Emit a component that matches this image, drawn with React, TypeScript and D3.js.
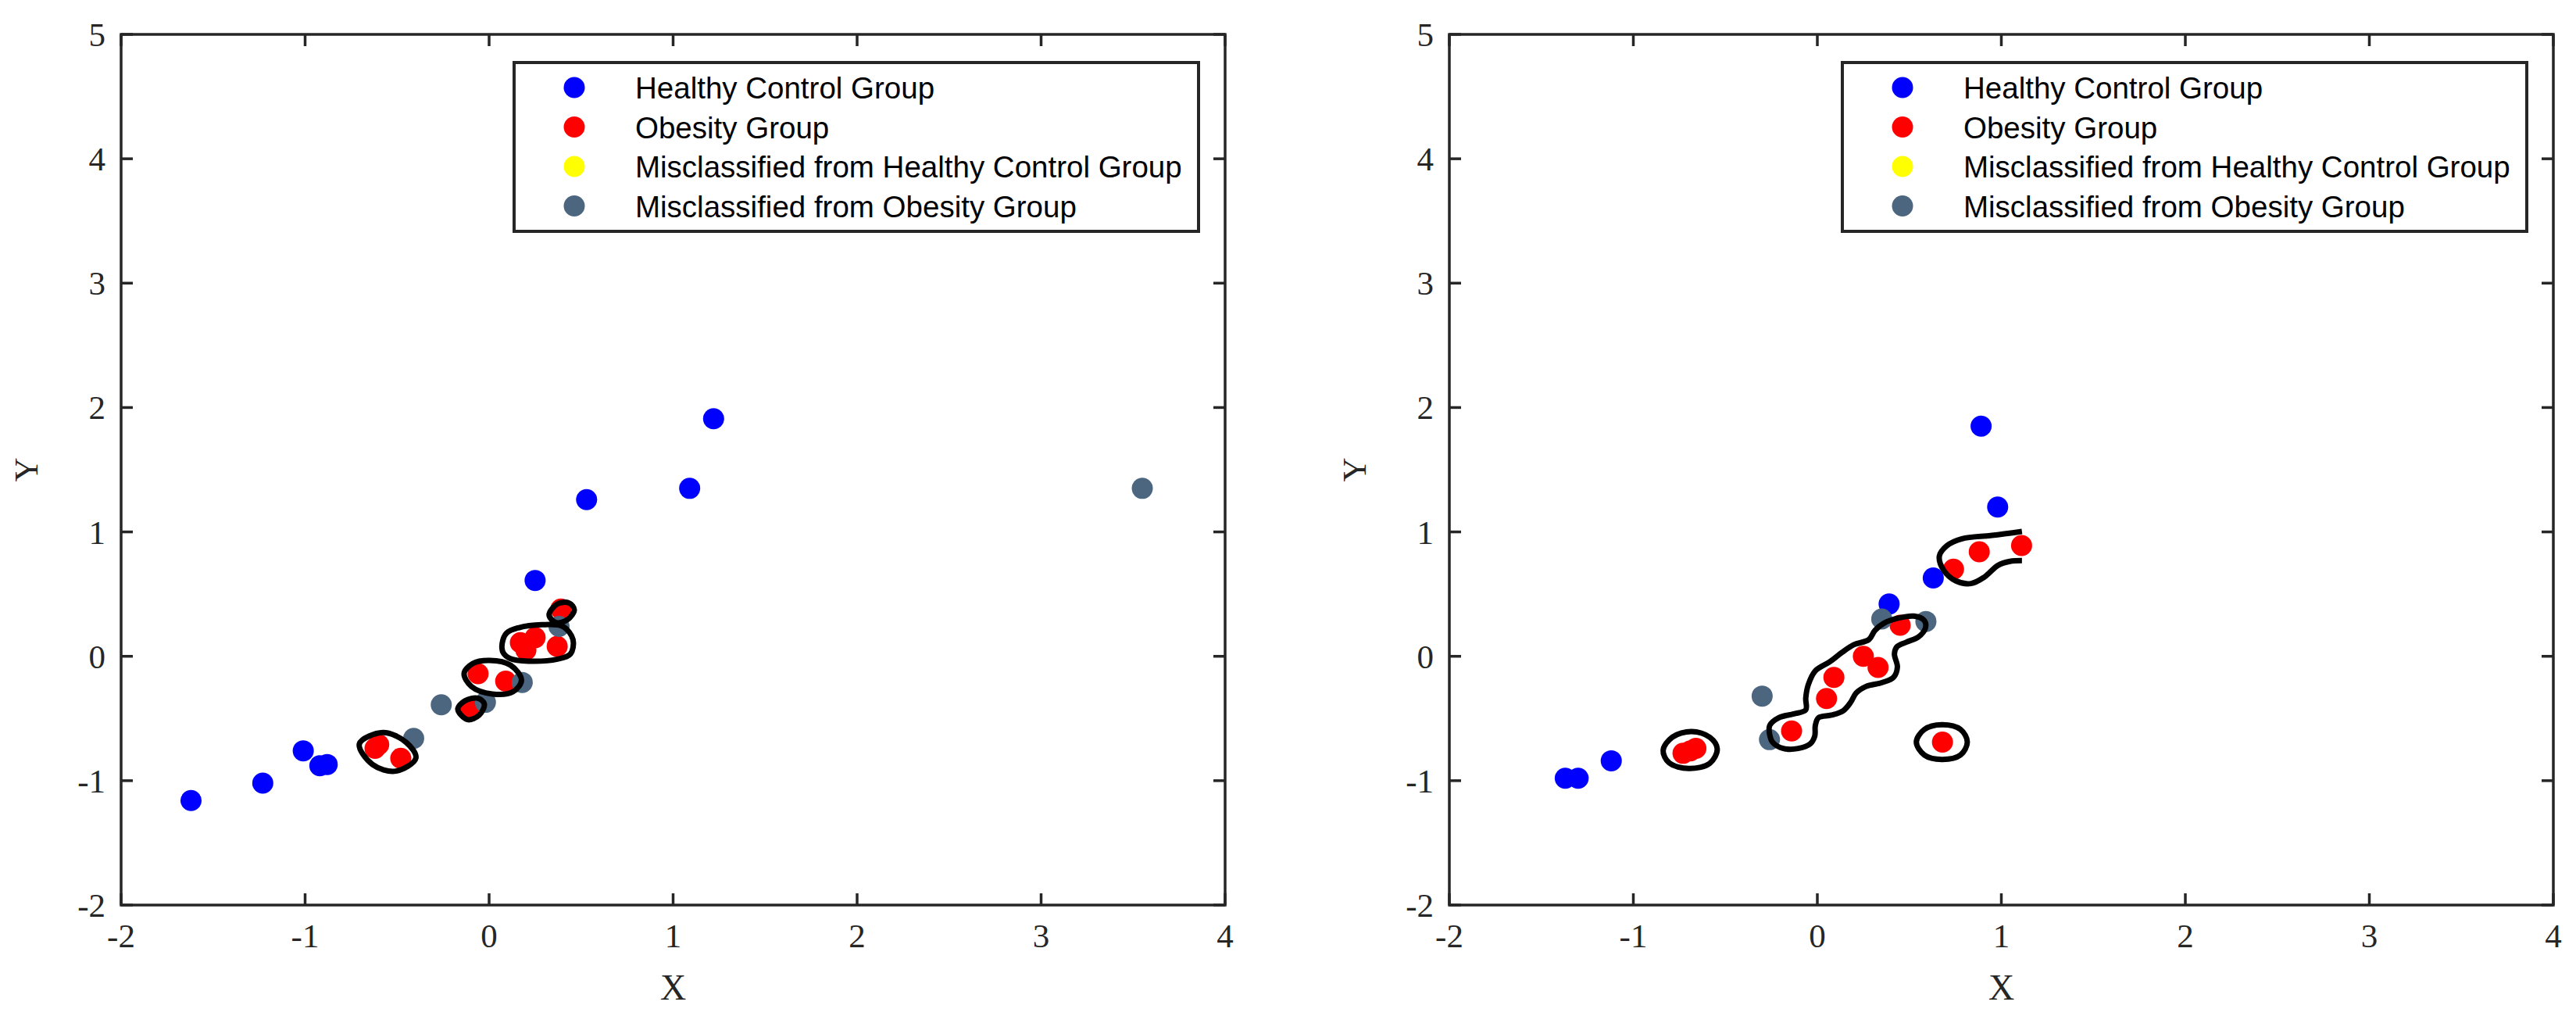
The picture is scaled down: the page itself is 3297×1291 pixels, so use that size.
import * as d3 from "d3";

// ---- tick values / labels ----
const xTicks = [-2, -1, 0, 1, 2, 3, 4];
const yTicks = [-2, -1, 0, 1, 2, 3, 4, 5];
const legendLabels = [
  "Healthy Control Group",
  "Obesity Group",
  "Misclassified from Healthy Control Group",
  "Misclassified from Obesity Group",
];
const groupColors = ["#0000ff", "#ff0000", "#ffff00", "#4d6680"];

type Pt = [number, number];

// ---- left panel ----
const leftHealthy: Pt[] = [
  [-1.62, -1.16], [-1.23, -1.02], [-1.01, -0.76], [-0.92, -0.88], [-0.88, -0.87],
  [0.25, 0.61], [0.53, 1.26], [1.09, 1.35], [1.22, 1.91],
];
const leftObesity: Pt[] = [
  [-0.62, -0.74], [-0.6, -0.71], [-0.48, -0.82], [-0.1, -0.43], [-0.06, -0.14],
  [0.09, -0.2], [0.17, 0.11], [0.2, 0.05], [0.25, 0.15], [0.37, 0.08], [0.39, 0.38],
];
const leftMisHealthy: Pt[] = [];
const leftMisObesity: Pt[] = [
  [-0.41, -0.66], [-0.26, -0.39], [-0.02, -0.37], [0.18, -0.21], [0.38, 0.24], [3.55, 1.35],
];
const leftLoops: Pt[][] = [
  [[-0.705, -0.704], [-0.577, -0.613], [-0.45, -0.693], [-0.398, -0.819], [-0.507, -0.923], [-0.634, -0.87]],
  [[-0.17, -0.425], [-0.132, -0.358], [-0.061, -0.337], [-0.026, -0.383], [-0.054, -0.473], [-0.118, -0.509]],
  [[-0.136, -0.138], [-0.089, -0.058], [0.003, -0.033], [0.116, -0.071], [0.176, -0.19], [0.13, -0.285], [0.017, -0.303], [-0.096, -0.243]],
  [[0.071, 0.103], [0.095, 0.187], [0.159, 0.229], [0.286, 0.254], [0.402, 0.239], [0.456, 0.134], [0.442, 0.019], [0.371, -0.023], [0.215, -0.039], [0.116, -0.019], [0.076, 0.03]],
  [[0.326, 0.333], [0.371, 0.421], [0.435, 0.428], [0.463, 0.375], [0.427, 0.296], [0.364, 0.271]],
];
const leftOpen: Pt[][] = [];

// ---- right panel ----
const rightHealthy: Pt[] = [
  [-1.37, -0.98], [-1.3, -0.98], [-1.12, -0.84], [0.39, 0.42], [0.63, 0.63], [0.98, 1.2], [0.89, 1.85],
];
const rightObesity: Pt[] = [
  [-0.73, -0.78], [-0.69, -0.76], [-0.66, -0.74], [-0.14, -0.6], [0.05, -0.34], [0.09, -0.17],
  [0.25, 0.0], [0.33, -0.09], [0.45, 0.25], [0.68, -0.69], [0.74, 0.7], [0.88, 0.84], [1.11, 0.89],
];
const rightMisHealthy: Pt[] = [];
const rightMisObesity: Pt[] = [[-0.3, -0.32], [-0.26, -0.67], [0.35, 0.3], [0.59, 0.28]];
const rightLoops: Pt[][] = [
  [[-0.838, -0.756], [-0.789, -0.651], [-0.683, -0.605], [-0.585, -0.651], [-0.544, -0.745], [-0.585, -0.861], [-0.699, -0.902], [-0.806, -0.856]],
  [[0.538, -0.689], [0.582, -0.588], [0.677, -0.55], [0.778, -0.588], [0.815, -0.689], [0.778, -0.794], [0.677, -0.829], [0.582, -0.794]],
  [
    [-0.259, -0.63], [-0.259, -0.557], [-0.21, -0.494], [-0.128, -0.463], [-0.063, -0.431], [-0.063, -0.337],
    [-0.05, -0.232], [-0.011, -0.117], [0.068, -0.044], [0.133, 0.03], [0.198, 0.093], [0.28, 0.134],
    [0.313, 0.208], [0.362, 0.266], [0.443, 0.308], [0.525, 0.323], [0.582, 0.287], [0.587, 0.225],
    [0.549, 0.155], [0.484, 0.114], [0.432, 0.076], [0.419, 0.019], [0.435, -0.086], [0.414, -0.169],
    [0.353, -0.211], [0.264, -0.243], [0.211, -0.295], [0.182, -0.368], [0.141, -0.437], [0.076, -0.473],
    [0.006, -0.494], [-0.011, -0.557], [-0.014, -0.641], [-0.038, -0.703], [-0.104, -0.741], [-0.185, -0.741],
    [-0.242, -0.693],
  ],
];
const rightOpen: Pt[][] = [
  [[1.112, 1.004], [0.949, 0.972], [0.786, 0.945], [0.704, 0.889], [0.663, 0.805], [0.688, 0.689],
   [0.753, 0.606], [0.835, 0.585], [0.908, 0.637], [0.982, 0.731], [1.047, 0.763], [1.112, 0.769]],
];

// ---- layout ----
const W = 3297;
const H = 1291;
const axTop = 44;
const axH = 1114;
const axW = 1413;
const axColor = "#262626";
const serif = "'Liberation Serif', 'Times New Roman', serif";
const sans = "'Liberation Sans', Arial, sans-serif";

interface PanelProps {
  left: number;
  groups: Pt[][];
  loops: Pt[][];
  open: Pt[][];
}

function Panel({ left, groups, loops, open }: PanelProps) {
  const x = d3.scaleLinear().domain([-2, 4]).range([left, left + axW]);
  const y = d3.scaleLinear().domain([-2, 5]).range([axTop + axH, axTop]);
  const closed = d3.line<Pt>().x(d => x(d[0])).y(d => y(d[1])).curve(d3.curveCatmullRomClosed.alpha(0.5));
  const openLine = d3.line<Pt>().x(d => x(d[0])).y(d => y(d[1])).curve(d3.curveCatmullRom.alpha(0.5));
  const tickLen = 15;
  const bottom = axTop + axH;
  const right = left + axW;

  // draw order: healthy, obesity, misclassified
  const order = [0, 1, 2, 3];

  const lgLeft = left + 503;
  const lgTop = 80;
  const lgW = 876;
  const lgH = 216;

  return (
    <g>
      {order.map(gi =>
        groups[gi].map((p, i) => (
          <circle key={`${gi}-${i}`} cx={x(p[0])} cy={y(p[1])} r={13.5} fill={groupColors[gi]} />
        ))
      )}
      {loops.map((l, i) => (
        <path key={`l${i}`} d={closed(l) ?? ""} fill="none" stroke="#000" strokeWidth={7} />
      ))}
      {open.map((l, i) => (
        <path key={`o${i}`} d={openLine(l) ?? ""} fill="none" stroke="#000" strokeWidth={7} />
      ))}

      {/* axes box + ticks */}
      <rect x={left} y={axTop} width={axW} height={axH} fill="none" stroke={axColor} strokeWidth={3.5} />
      {xTicks.map(t => (
        <g key={`xt${t}`}>
          <line x1={x(t)} x2={x(t)} y1={bottom} y2={bottom - tickLen} stroke={axColor} strokeWidth={3.5} />
          <line x1={x(t)} x2={x(t)} y1={axTop} y2={axTop + tickLen} stroke={axColor} strokeWidth={3.5} />
          <text x={x(t)} y={bottom + 54} textAnchor="middle" fontFamily={serif} fontSize={43} fill={axColor}>
            {t}
          </text>
        </g>
      ))}
      {yTicks.map(t => (
        <g key={`yt${t}`}>
          <line x1={left} x2={left + tickLen} y1={y(t)} y2={y(t)} stroke={axColor} strokeWidth={3.5} />
          <line x1={right} x2={right - tickLen} y1={y(t)} y2={y(t)} stroke={axColor} strokeWidth={3.5} />
          <text x={left - 20} y={y(t) + 15} textAnchor="end" fontFamily={serif} fontSize={43} fill={axColor}>
            {t}
          </text>
        </g>
      ))}
      <text x={left + axW / 2} y={1279} textAnchor="middle" fontFamily={serif} fontSize={46} fill={axColor}>
        X
      </text>
      <text
        x={left - 107}
        y={axTop + axH / 2}
        transform={`rotate(-90, ${left - 107}, ${axTop + axH / 2})`}
        textAnchor="middle"
        fontFamily={serif}
        fontSize={43}
        fill={axColor}
      >
        Y
      </text>

      {/* legend */}
      <rect x={lgLeft} y={lgTop} width={lgW} height={lgH} fill="#fff" stroke={axColor} strokeWidth={4} />
      {legendLabels.map((lab, i) => (
        <g key={lab}>
          <circle cx={lgLeft + 77} cy={lgTop + 32 + i * 50.5} r={13.5} fill={groupColors[i]} />
          <text x={lgLeft + 155} y={lgTop + 46 + i * 50.5} fontFamily={sans} fontSize={38.5} fill="#000">
            {lab}
          </text>
        </g>
      ))}
    </g>
  );
}

export default function App() {
  return (
    <svg
      width={W}
      height={H}
      viewBox={`0 0 ${W} ${H}`}
      style={{ position: "absolute", left: 0, top: 0, background: "#fff" }}
    >
      <rect width={W} height={H} fill="#fff" />
      <Panel
        left={155}
        groups={[leftHealthy, leftObesity, leftMisHealthy, leftMisObesity]}
        loops={leftLoops}
        open={leftOpen}
      />
      <Panel
        left={1855}
        groups={[rightHealthy, rightObesity, rightMisHealthy, rightMisObesity]}
        loops={rightLoops}
        open={rightOpen}
      />
    </svg>
  );
}
